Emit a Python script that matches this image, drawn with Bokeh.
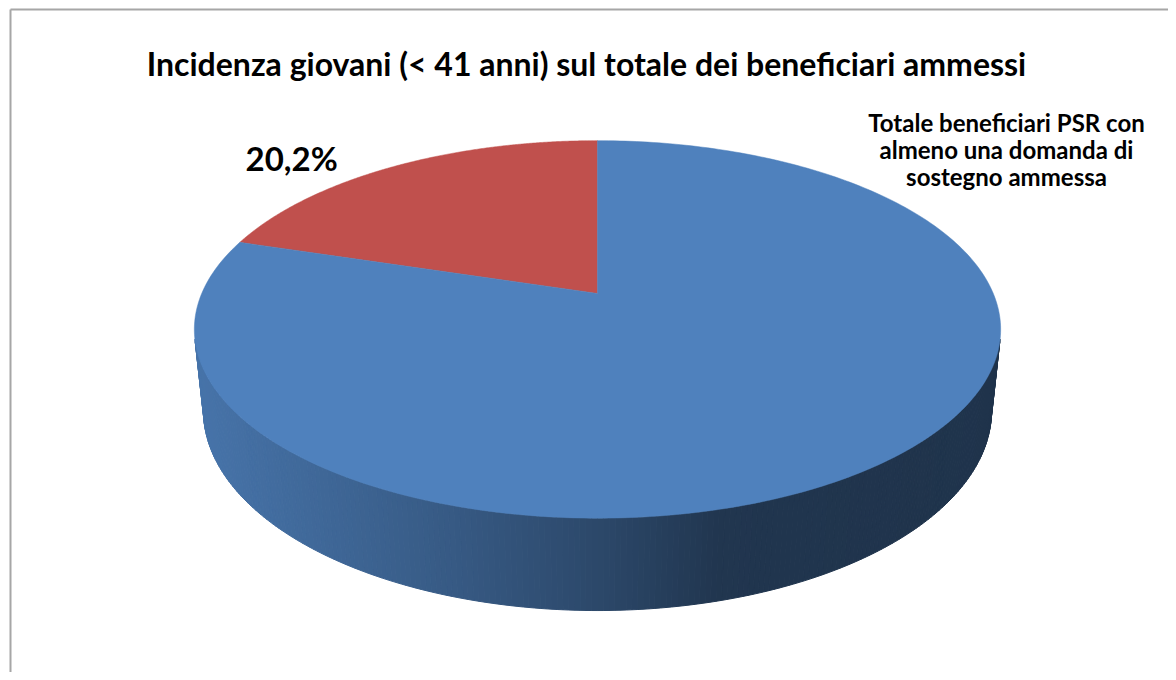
import numpy as np
from bokeh.plotting import figure
from bokeh.models import Range1d, ColumnDataSource
from bokeh.core.properties import value
from bokeh.embed import file_html
from bokeh.resources import INLINE

# ---------------- data ----------------
title_text = "Incidenza giovani (< 41 anni) sul totale dei beneficiari ammessi"
categories = ["Giovani (< 41 anni)",
              "Totale beneficiari PSR con almeno una domanda di sostegno ammessa"]
shares = [20.2, 79.8]
slice_colors = ["#C0504D", "#4F81BD"]
pct_label = ["20,2%"]
category_label_lines = ["Totale beneficiari PSR con", "almeno una domanda di", "sostegno ammessa"]

# ---------------- 3D projection (layout) ----------------
CX, CY = 597.0, 293.0      # projected centre of the top face (page px)
FOC = 1871.0
FX = FOC * 0.99
ALPHA = np.radians(27.07)
DIST = 4.68
DEPTH = 0.23
sa, ca = np.sin(ALPHA), np.cos(ALPHA)


def proj(theta, z=0.0):
    X = np.sin(theta)
    Y = np.cos(theta)
    u = X
    v = Y * sa + z * ca
    w = DIST + Y * ca - z * sa
    return CX + FX * u / w, CY - FOC * v / w


# slice angle ranges (clockwise from 12 o'clock; first slice counter-clockwise)
total = float(sum(shares))
red_span = 2 * np.pi * shares[0] / total
ranges = [(-red_span, 0.0), (0.0, 2 * np.pi - red_span)]

# side shading (function of screen x)
shade_x = [190, 300, 450, 600, 720, 1010]
shade_f = [0.90, 0.82, 0.70, 0.56, 0.42, 0.40]


def hex_to_rgb(h):
    h = h.lstrip("#")
    return tuple(int(h[i:i + 2], 16) for i in (0, 2, 4))


def shade(hexcol, f):
    r, g, b = hex_to_rgb(hexcol)
    return "#%02x%02x%02x" % (int(r * f), int(g * f), int(b * f))


def slice_of(theta):
    t = np.mod(theta + red_span, 2 * np.pi) - red_span
    for i, (a0, a1) in enumerate(ranges):
        if a0 <= t <= a1:
            return i
    return 1


p = figure(width=1168, height=672, output_backend="svg", toolbar_location=None,
           x_range=Range1d(0, 1168), y_range=Range1d(672, 0),
           x_axis_type=None, y_axis_type=None, min_border=0, title=None)
p.grid.visible = False
p.outline_line_color = None
p.background_fill_color = "white"
p.border_fill_color = "white"

# chart border (left and top edges visible)
p.segment(x0=[10, 10], y0=[672, 9], x1=[10, 1168], y1=[9, 9],
          line_color="#a6a6a6", line_width=2)

# ---------------- side wall ----------------
t_tan = np.arccos(-1.0 / (DIST * ca))
N = 220
ths = np.linspace(t_tan, 2 * np.pi - t_tan, N + 1)
xs, ys, cols = [], [], []
for i in range(N):
    a, b = ths[i], ths[i + 1]
    xa, ya = proj(a)
    xb, yb = proj(b)
    xb2, yb2 = proj(b, -DEPTH)
    xa2, ya2 = proj(a, -DEPTH)
    xs.append([xa, xb, xb2, xa2])
    ys.append([ya, yb, yb2, ya2])
    k = slice_of((a + b) / 2)
    xm = (xa + xb) / 2
    cols.append(shade(slice_colors[k], float(np.interp(xm, shade_x, shade_f))))
side_src = ColumnDataSource(dict(xs=xs, ys=ys, c=cols))
p.patches("xs", "ys", source=side_src, fill_color="c", line_color="c", line_width=1)

# ---------------- top faces ----------------
txs, tys = [], []
for (a0, a1) in ranges:
    th = np.linspace(a0, a1, 300)
    px, py = proj(th)
    txs.append([CX] + list(px))
    tys.append([CY] + list(py))
top_src = ColumnDataSource(dict(xs=txs, ys=tys, c=slice_colors, name=categories))
p.patches("xs", "ys", source=top_src, fill_color="c", line_color="c", line_width=0.5)

# ---------------- texts ----------------
p.text(x=[586], y=[63], text=[title_text], text_font=value("Lato"),
       text_font_style="bold", text_font_size="32px", text_align="center",
       text_baseline="alphabetic", text_color="black")

p.text(x=[245], y=[157], text=pct_label, text_font=value("Lato"),
       text_font_style="bold", text_font_size="33px", text_align="left",
       text_baseline="alphabetic", text_color="black")

p.text(x=[1006] * 3, y=[122, 149, 176], text=category_label_lines,
       text_font=value("Lato"), text_font_style="bold", text_font_size="24px",
       text_align="center", text_baseline="alphabetic", text_color="black")

open("out.html", "w").write(file_html(p, INLINE))
